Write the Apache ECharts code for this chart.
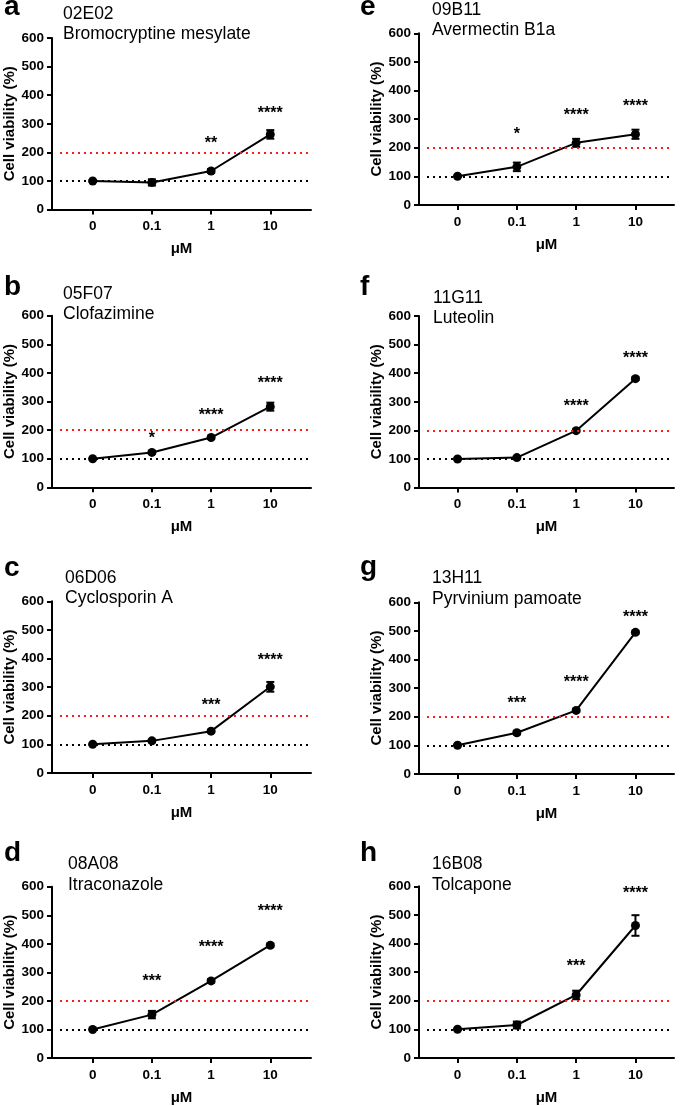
<!DOCTYPE html>
<html>
<head>
<meta charset="utf-8">
<script src="https://cdn.jsdelivr.net/npm/echarts@6/dist/echarts.min.js"></script>
<style>
html, body { margin: 0; padding: 0; background: #fff; }
#chart { width: 680px; height: 1106px; }
</style>
</head>
<body>
<div id="chart"></div>
<script>
// dose labels on the x axis
var doses = ['0', '0.1', '1', '10'];
var yMax = 600;
var yStep = 100;
var baselineLevel = 100;   // black dotted
var thresholdLevel = 200;  // red dotted

var panelLetters = ['a', 'b', 'c', 'd', 'e', 'f', 'g', 'h'];
var compoundIds = ['02E02', '05F07', '06D06', '08A08', '09B11', '11G11', '13H11', '16B08'];
var compoundNames = ['Bromocryptine mesylate', 'Clofazimine', 'Cyclosporin A', 'Itraconazole',
    'Avermectin B1a', 'Luteolin', 'Pyrvinium pamoate', 'Tolcapone'];

// mean cell viability (%) and error bar half-width, per panel
var meanA = [100, 95, 135, 263];  var errA = [2, 11, 7, 15];
var meanB = [100, 122, 174, 282]; var errB = [2, 5, 5, 14];
var meanC = [100, 112, 146, 301]; var errC = [2, 5, 5, 17];
var meanD = [100, 152, 270, 395]; var errD = [2, 13, 6, 6];
var meanE = [100, 133, 217, 247]; var errE = [2, 15, 14, 16];
var meanF = [100, 105, 199, 381]; var errF = [2, 4, 4, 5];
var meanG = [100, 144, 222, 495]; var errG = [2, 6, 5, 5];
var meanH = [100, 115, 220, 463]; var errH = [2, 12, 15, 36];

// significance marks and the height (in %) they sit at
var sigA = ['', '', '**', '****'];       var sigYA = [0, 0, 232, 337];
var sigB = ['', '*', '****', '****'];    var sigYB = [0, 172, 251, 363];
var sigC = ['', '', '***', '****'];      var sigYC = [0, 0, 237, 391];
var sigD = ['', '***', '****', '****'];  var sigYD = [0, 268, 385, 513];
var sigE = ['', '*', '****', '****'];    var sigYE = [0, 247, 313, 343];
var sigF = ['', '', '****', '****'];     var sigYF = [0, 0, 282, 451];
var sigG = ['', '***', '****', '****'];  var sigYG = [0, 245, 321, 548];
var sigH = ['', '', '***', '****'];      var sigYH = [0, 0, 319, 575];

var means = [meanA, meanB, meanC, meanD, meanE, meanF, meanG, meanH];
var errs = [errA, errB, errC, errD, errE, errF, errG, errH];
var sigs = [sigA, sigB, sigC, sigD, sigE, sigF, sigG, sigH];
var sigYs = [sigYA, sigYB, sigYC, sigYD, sigYE, sigYF, sigYG, sigYH];

// layout
var colLeft = [52, 419];
var colWidth = [259, 255];
var colPad = [0.6875, 0.65];
var rowTop = [[38, 315.7, 601.3, 886.7], [33.3, 316, 602.3, 886.3]];
var plotH = 171.6;
var letterX = [4, 360];
var letterBase = [[17, 297, 578, 863], [17, 297, 577, 863]];
var titleX = [[63, 63, 65, 68], [432, 433, 432, 432]];
var titleBase = [[20, 300, 584, 870.5], [15.7, 304, 584.3, 870.5]];

var FONT = '"Liberation Sans", Arial, Helvetica, sans-serif';

var chart = echarts.init(document.getElementById('chart'));
var grids = [], xAxes = [], yAxes = [], series = [], graphics = [];

means.forEach(function (mean, i) {
    var col = i < 4 ? 0 : 1;
    var row = i % 4;
    var pad = colPad[col];
    var err = errs[i];
    var sig = sigs[i];
    var sigY = sigYs[i];

    grids.push({ left: colLeft[col], top: rowTop[col][row], width: colWidth[col], height: plotH });

    xAxes.push({
        gridIndex: i, type: 'value', min: -pad, max: 3 + pad,
        axisLine: { onZero: false, lineStyle: { color: '#000', width: 2 } },
        axisTick: { customValues: [0, 1, 2, 3], length: 5, lineStyle: { color: '#000', width: 2 } },
        axisLabel: {
            customValues: [0, 1, 2, 3],
            formatter: function (v) { return doses[Math.round(v)]; },
            color: '#000', fontWeight: 'bold', fontSize: 13.5, fontFamily: FONT, margin: 10
        },
        splitLine: { show: false },
        name: 'μM', nameLocation: 'middle', nameGap: 32,
        nameTextStyle: { color: '#000', fontWeight: 'bold', fontSize: 15, fontFamily: FONT }
    });

    yAxes.push({
        gridIndex: i, type: 'value', min: 0, max: yMax, interval: yStep,
        axisLine: { show: true, onZero: false, lineStyle: { color: '#000', width: 2 } },
        axisTick: { show: true, length: 5, lineStyle: { color: '#000', width: 2 } },
        axisLabel: { color: '#000', fontWeight: 'bold', fontSize: 13.5, fontFamily: FONT, margin: 8 },
        splitLine: { show: false },
        name: 'Cell viability (%)', nameLocation: 'middle', nameGap: 32,
        nameTextStyle: { color: '#000', fontWeight: 'bold', fontSize: 15, fontFamily: FONT }
    });

    var refStart = -pad + 0.135;
    var refEnd = 3 + pad - 0.05;

    // error bars
    series.push({
        type: 'custom', xAxisIndex: i, yAxisIndex: i, z: 3, silent: true,
        data: mean.map(function (m, k) { return [k, m - err[k], m + err[k]]; }),
        renderItem: function (params, api) {
            var lo = api.coord([api.value(0), api.value(1)]);
            var hi = api.coord([api.value(0), api.value(2)]);
            var w = 4;
            var st = { stroke: '#000', lineWidth: 2 };
            return {
                type: 'group', children: [
                    { type: 'line', shape: { x1: lo[0], y1: lo[1], x2: hi[0], y2: hi[1] }, style: st },
                    { type: 'line', shape: { x1: lo[0] - w, y1: lo[1], x2: lo[0] + w, y2: lo[1] }, style: st },
                    { type: 'line', shape: { x1: hi[0] - w, y1: hi[1], x2: hi[0] + w, y2: hi[1] }, style: st }
                ]
            };
        }
    });

    // mean line with reference lines
    series.push({
        type: 'line', xAxisIndex: i, yAxisIndex: i, z: 4,
        data: mean.map(function (m, k) { return [k, m]; }),
        symbol: 'circle', symbolSize: 9,
        lineStyle: { color: '#000', width: 2 },
        itemStyle: { color: '#000' },
        markLine: {
            silent: true, symbol: 'none', label: { show: false }, animation: false,
            data: [
                [{ coord: [refStart, baselineLevel], lineStyle: { color: '#000', type: [2, 4], width: 2 } },
                 { coord: [refEnd, baselineLevel] }],
                [{ coord: [refStart, thresholdLevel], lineStyle: { color: '#ff1a1a', type: [2, 4], width: 2 } },
                 { coord: [refEnd, thresholdLevel] }]
            ]
        }
    });

    // significance stars
    var starData = [], starText = [];
    sig.forEach(function (s, k) {
        if (s) { starData.push([k, sigY[k]]); starText.push(s); }
    });
    series.push({
        type: 'custom', xAxisIndex: i, yAxisIndex: i, z: 5, silent: true,
        data: starData,
        renderItem: function (params, api) {
            var pt = api.coord([api.value(0), api.value(1)]);
            return {
                type: 'text', x: pt[0], y: pt[1],
                style: {
                    text: starText[params.dataIndex], align: 'center', verticalAlign: 'middle',
                    font: 'bold 16px ' + FONT, fill: '#000'
                }
            };
        }
    });

    graphics.push({
        type: 'text', x: letterX[col], y: letterBase[col][row] - 10,
        style: { text: panelLetters[i], font: 'bold 28px ' + FONT, fill: '#000', verticalAlign: 'middle' }
    });
    graphics.push({
        type: 'text', x: titleX[col][row], y: titleBase[col][row] - 6,
        style: { text: compoundIds[i], font: '17.5px ' + FONT, fill: '#000', verticalAlign: 'middle' }
    });
    graphics.push({
        type: 'text', x: titleX[col][row], y: titleBase[col][row] + 14.5,
        style: { text: compoundNames[i], font: '17.5px ' + FONT, fill: '#000', verticalAlign: 'middle' }
    });
});

chart.setOption({
    animation: false,
    backgroundColor: '#fff',
    grid: grids,
    xAxis: xAxes,
    yAxis: yAxes,
    series: series,
    graphic: graphics
});
</script>
</body>
</html>
